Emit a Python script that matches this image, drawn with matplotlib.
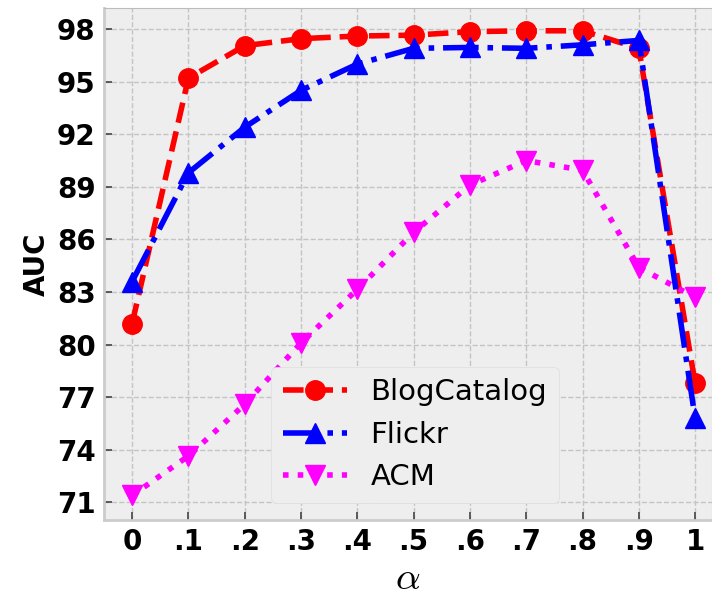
import numpy as np
import matplotlib.pyplot as plt

plt.style.use('bmh')
plt.rcParams['mathtext.fontset'] = 'cm'

alpha = [0, 0.1, 0.2, 0.3, 0.4, 0.5, 0.6, 0.7, 0.8, 0.9, 1.0]
alpha_labels = ['0', '.1', '.2', '.3', '.4', '.5', '.6', '.7', '.8', '.9', '1']
blogcatalog = [81.2, 95.2, 97.05, 97.45, 97.6, 97.65, 97.85, 97.9, 97.9, 96.9, 77.8]
flickr = [83.6, 89.8, 92.4, 94.5, 96.0, 96.9, 96.95, 96.9, 97.1, 97.35, 75.8]
acm = [71.4, 73.65, 76.6, 80.1, 83.15, 86.4, 89.1, 90.5, 89.95, 84.4, 82.7]
yticks = [71, 74, 77, 80, 83, 86, 89, 92, 95, 98]

fig, ax = plt.subplots(figsize=(7.12, 5.96), dpi=100)

ax.plot(alpha, blogcatalog, color='red', linestyle='--', marker='o',
        linewidth=4, markersize=14, label='BlogCatalog')
ax.plot(alpha, flickr, color='blue', linestyle='-.', marker='^',
        linewidth=4, markersize=14, label='Flickr')
ax.plot(alpha, acm, color='magenta', linestyle=':', marker='v',
        linewidth=4, markersize=14, label='ACM')

ax.set_xlim(-0.05, 1.03)
ax.set_ylim(70, 99.2)
ax.set_xticks(alpha)
ax.set_xticklabels(alpha_labels, fontsize=20, fontweight='bold')
ax.set_yticks(yticks)
ax.set_yticklabels([str(t) for t in yticks], fontsize=20, fontweight='bold')
ax.tick_params(direction='in', length=6, width=1.2, color='#444444',
               labelcolor='black', pad=6)
ax.grid(True, color='#c4c4c4', linestyle='--', linewidth=1.0)
for side in ['left', 'bottom']:
    ax.spines[side].set_color('#cccccc')
    ax.spines[side].set_linewidth(2)
ax.set_xlabel(r'$\alpha$', fontsize=28, labelpad=2)
ax.set_ylabel('AUC', fontsize=20, fontweight='bold', labelpad=4)

leg = ax.legend(loc='lower left', bbox_to_anchor=(0.275, 0.033), borderaxespad=0,
                fontsize=21, handlelength=2.2, framealpha=1.0)
leg.get_frame().set_facecolor('#eeeeee')
leg.get_frame().set_edgecolor('#dddddd')

fig.subplots_adjust(left=0.146, right=1.0, top=0.9866, bottom=0.1275)
fig.savefig('out.png', dpi=100)
